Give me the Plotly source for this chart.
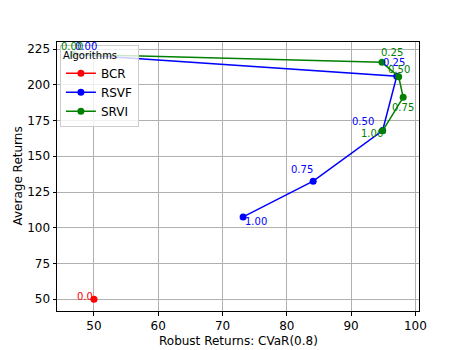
import plotly.graph_objects as go

# ---- data ----
bcr_x = [50.0]
bcr_y = [50.0]
bcr_labels = ["0.0"]

rsvf_x = [46.8, 97.1, 94.9, 84.1, 73.2]
rsvf_y = [221.4, 206.0, 168.0, 132.6, 107.6]
rsvf_labels = ["0.00", "0.25", "0.50", "0.75", "1.00"]

srvi_x = [46.8, 94.8, 97.4, 98.1, 94.9]
srvi_y = [221.4, 215.7, 205.6, 191.2, 167.8]
srvi_labels = ["0.00", "0.25", "0.50", "0.75", "1.00"]

x_ticks = [50, 60, 70, 80, 90, 100]
y_ticks = [50, 75, 100, 125, 150, 175, 200, 225]

# label pixel offsets (styling)
bcr_off = [(-9, 3)]
rsvf_off = [(13, 8), (-3, 14), (-20, 9), (-11, 12), (13, -5)]
srvi_off = [(-1, 8), (10, 10), (0, 7), (0, -10), (-11, -3)]

FONT = "DejaVu Sans"
fig = go.Figure()
series = [
    ("BCR", bcr_x, bcr_y, bcr_labels, bcr_off, "#ff0000"),
    ("RSVF", rsvf_x, rsvf_y, rsvf_labels, rsvf_off, "#0000ff"),
    ("SRVI", srvi_x, srvi_y, srvi_labels, srvi_off, "#008000"),
]
for name, xs, ys, labs, offs, col in series:
    fig.add_trace(go.Scatter(
        x=xs, y=ys, mode="lines+markers", name=name,
        line=dict(color=col, width=1.5),
        marker=dict(color=col, size=7),
    ))
annotations = []
for name, xs, ys, labs, offs, col in series:
    for xv, yv, lab, (dx, dy) in zip(xs, ys, labs, offs):
        annotations.append(dict(
            x=xv, y=yv, text=lab, showarrow=False, xshift=dx, yshift=dy,
            font=dict(family=FONT, size=10, color=col), xref="x", yref="y",
        ))
# axis titles
annotations.append(dict(
    x=0.5, y=0, xref="paper", yref="paper", xanchor="center", yanchor="top",
    yshift=-21, showarrow=False, text="Robust Returns: CVaR(0.8)",
    font=dict(family=FONT, size=12, color="black"),
))
annotations.append(dict(
    x=0, y=0.5, xref="paper", yref="paper", xanchor="right", yanchor="middle",
    xshift=-31, showarrow=False, text="Average Returns", textangle=-90,
    font=dict(family=FONT, size=12, color="black"),
))

axis_common = dict(
    showgrid=True, gridcolor="#b0b0b0", gridwidth=0.8,
    showline=True, linecolor="black", linewidth=1, mirror=True,
    ticks="outside", ticklen=3.5, tickcolor="black", tickwidth=0.8,
    zeroline=False, tickfont=dict(family=FONT, size=12, color="black"),
    automargin=False,
)
fig.update_layout(
    width=467, height=350,
    margin=dict(l=57, r=48, t=42, b=39),
    paper_bgcolor="white", plot_bgcolor="white",
    font=dict(family=FONT, size=12, color="black"),
    xaxis=dict(range=[44.25, 100.56], tickvals=x_ticks, **axis_common),
    yaxis=dict(range=[41.8, 229.9], tickvals=y_ticks, **axis_common),
    legend=dict(
        title=dict(text="Algorithms", font=dict(family=FONT, size=10), side="top"),
        x=0.008, y=0.99, xanchor="left", yanchor="top",
        bgcolor="rgba(255,255,255,0.8)", bordercolor="#cccccc", borderwidth=1,
        font=dict(family=FONT, size=12), tracegroupgap=0, itemwidth=30,
    ),
    annotations=annotations,
    showlegend=True,
)
fig.write_html(
    "out.html",
    config={"displayModeBar": False},
    post_script="document.body.style.margin='0';document.body.style.overflow='hidden';",
)
